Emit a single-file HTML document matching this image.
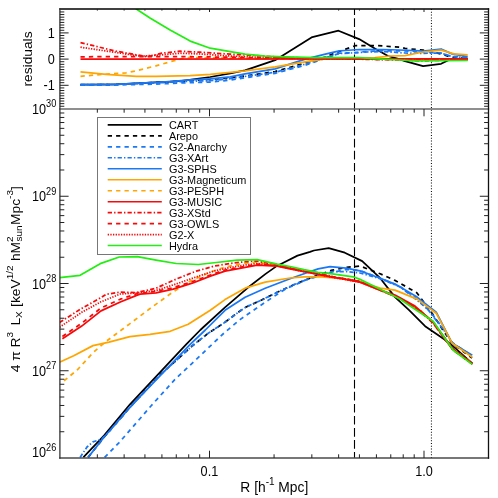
<!DOCTYPE html>
<html><head><meta charset="utf-8"><title>chart</title><style>html,body{margin:0;padding:0;background:#fff}</style></head><body><svg width="498" height="498" viewBox="0 0 498 498" style="display:block;font-family:'Liberation Sans',sans-serif">
<rect width="498" height="498" fill="#fff"/>
<defs><clipPath id="ct"><rect x="59.9" y="9.0" width="428.6" height="100.0"/></clipPath><clipPath id="cb"><rect x="59.9" y="109.0" width="428.6" height="349.0"/></clipPath></defs>
<line x1="354.5" y1="9.0" x2="354.5" y2="458.0" stroke="#000" stroke-width="1.1" stroke-dasharray="8.65 3.4" stroke-dashoffset="2.75"/>
<line x1="431.45" y1="9.0" x2="431.45" y2="458.0" stroke="#111" stroke-width="1.1" stroke-dasharray="1 1.8"/>
<polyline points="80.5,84.7 116.2,84.3 156.0,82.3 180.0,81.0 210.2,77.0 230.3,73.3 245.0,70.3 275.1,60.2 312.3,37.1 338.5,30.7 359.1,39.1 375.2,48.7 388.0,56.0 399.3,59.2 405.0,61.1 423.1,66.1 441.1,63.8 448.4,60.2 467.7,58.4" fill="none" stroke="#000" stroke-width="1.75" stroke-linejoin="round" clip-path="url(#ct)"/>
<polyline points="80.5,84.9 116.2,84.5 156.0,82.5 190.2,80.5 210.2,79.5 230.3,77.8 245.0,76.0 275.1,71.5 305.2,63.0 325.3,57.0 335.0,53.0 344.6,49.5 355.9,45.5 375.2,45.5 399.3,47.1 405.0,48.4 423.0,50.2 441.0,53.9 452.0,57.5 467.7,58.4" fill="none" stroke="#000" stroke-width="1.75" stroke-linejoin="round" stroke-dasharray="4.3 4.1" clip-path="url(#ct)"/>
<polyline points="80.5,85.2 116.2,84.9 156.0,84.1 190.2,82.6 210.2,82.1 230.0,80.1 250.0,77.1 275.1,73.3 305.2,65.2 325.3,58.2 339.4,53.2 351.0,52.8 367.0,51.6 383.0,50.7 415.0,51.1 423.0,52.3 441.0,53.0 452.0,56.6 467.7,57.0" fill="none" stroke="#1a78f5" stroke-width="1.75" stroke-linejoin="round" stroke-dasharray="4.3 4.1" clip-path="url(#ct)"/>
<polyline points="80.5,84.7 116.2,84.3 156.0,82.9 190.2,81.2 210.2,80.7 230.0,78.7 250.0,75.7 275.1,72.3 305.2,64.2 325.3,57.7 339.4,53.5 351.0,53.0 367.0,52.0 383.0,51.5 405.0,53.0 423.0,53.3 441.0,53.0 452.0,56.6 467.7,57.5" fill="none" stroke="#1a78f5" stroke-width="1.75" stroke-linejoin="round" stroke-dasharray="4.3 2.1 1.4 2.1" clip-path="url(#ct)"/>
<polyline points="80.5,84.7 116.2,84.3 150.0,82.7 170.0,81.7 190.2,79.8 210.2,78.8 230.3,76.8 245.0,73.8 275.1,68.9 305.2,59.2 325.3,54.2 339.4,50.8 345.0,50.5 359.1,49.5 383.2,49.5 399.3,50.0 415.0,50.7 423.0,51.1 441.1,49.0 452.0,53.9 467.7,56.6" fill="none" stroke="#1a78f5" stroke-width="1.75" stroke-linejoin="round" clip-path="url(#ct)"/>
<polyline points="80.5,71.9 106.2,74.3 136.3,76.3 156.0,76.3 190.2,75.7 210.2,74.3 230.3,72.3 245.0,70.9 275.1,66.8 305.2,61.8 325.3,58.8 345.0,58.2 367.0,58.0 375.0,57.6 391.0,56.0 405.0,55.7 423.0,52.0 441.1,50.2 453.8,53.9 467.7,54.8" fill="none" stroke="#ffa500" stroke-width="1.75" stroke-linejoin="round" clip-path="url(#ct)"/>
<polyline points="80.5,76.3 106.2,74.0 126.0,72.8 136.3,70.8 156.0,65.8 170.0,61.8 186.0,57.6 210.0,57.8 250.0,58.4 300.0,58.6 350.0,58.8 400.0,59.0 467.7,59.5" fill="none" stroke="#ffa500" stroke-width="1.75" stroke-linejoin="round" stroke-dasharray="4.3 4.1" clip-path="url(#ct)"/>
<polyline points="80.5,59.2 467.7,58.9" fill="none" stroke="#f80808" stroke-width="1.75" stroke-linejoin="round" clip-path="url(#ct)"/>
<polyline points="80.5,42.6 116.2,51.2 146.4,56.6 150.0,56.2 162.0,53.2 180.1,51.2 200.2,52.2 230.3,54.2 250.0,55.2 280.0,57.2 320.0,58.5 360.0,59.2 400.0,60.0 423.0,61.0 445.0,60.0 467.7,59.5" fill="none" stroke="#f80808" stroke-width="1.75" stroke-linejoin="round" stroke-dasharray="4.3 2.1 1.4 2.1" clip-path="url(#ct)"/>
<polyline points="80.5,56.8 156.0,56.5 200.0,56.8 250.0,57.5 300.0,58.0 400.0,59.0 467.7,59.0" fill="none" stroke="#f80808" stroke-width="1.75" stroke-linejoin="round" stroke-dasharray="4.3 4.1" clip-path="url(#ct)"/>
<polyline points="80.5,47.2 116.2,52.5 140.3,56.2 160.0,55.0 180.0,53.2 200.0,54.0 230.0,56.0 250.0,57.0 300.0,58.5 400.0,59.5 467.7,59.5" fill="none" stroke="#f80808" stroke-width="1.75" stroke-linejoin="round" stroke-dasharray="1.3 1.35" clip-path="url(#ct)"/>
<polyline points="130.0,0.0 136.3,9.0 150.0,18.1 170.1,30.1 190.2,41.1 210.2,48.2 230.3,51.6 245.0,54.2 265.1,56.2 285.2,56.8 315.3,57.6 359.0,57.6 383.0,59.2 399.3,60.0 415.0,60.8 467.7,60.5" fill="none" stroke="#22ee11" stroke-width="1.75" stroke-linejoin="round" clip-path="url(#ct)"/>
<polyline points="83.3,457.4 104.2,435.4 130.0,404.3 186.2,344.4 200.3,330.0 225.0,307.3 247.7,287.8 265.3,274.1 276.6,266.1 281.4,263.7 297.5,255.6 310.0,251.9 313.9,250.5 328.7,248.2 344.8,252.7 362.2,261.1 380.2,278.2 395.0,297.1 409.1,310.2 425.1,326.2 444.2,339.3 453.2,346.3 472.3,363.4" fill="none" stroke="#000" stroke-width="1.75" stroke-linejoin="round" clip-path="url(#cb)"/>
<polyline points="88.1,457.4 104.2,437.0 130.0,407.3 160.0,374.9 176.0,360.6 192.1,346.0 208.2,333.3 224.3,322.7 240.0,311.0 246.1,307.0 262.1,299.8 278.2,291.8 294.3,284.5 310.0,278.1 318.1,275.1 332.2,270.2 346.2,267.4 360.0,266.0 380.2,273.8 396.0,280.9 417.0,292.9 433.0,314.6 444.3,332.3 452.3,343.5 472.0,358.0" fill="none" stroke="#000" stroke-width="1.75" stroke-linejoin="round" stroke-dasharray="4.3 4.1" clip-path="url(#cb)"/>
<polyline points="104.6,457.4 119.1,442.6 135.2,424.2 151.2,405.7 175.3,379.0 192.1,363.3 208.2,348.0 224.3,332.8 240.0,319.6 265.2,302.2 285.2,289.2 305.3,280.2 325.0,274.1 346.0,269.5 360.0,270.5 380.0,278.0 400.0,286.5 417.0,299.0 430.0,311.5 444.3,330.0 452.3,342.5 472.0,356.0" fill="none" stroke="#1a78f5" stroke-width="1.75" stroke-linejoin="round" stroke-dasharray="4.3 4.1" clip-path="url(#cb)"/>
<polyline points="80.1,457.4 87.0,447.0 93.0,441.8 101.0,439.4 108.0,433.0 130.0,407.3 160.0,374.9 176.0,360.6 192.1,346.0 208.2,333.3 224.3,322.7 240.0,311.0 246.1,307.0 262.1,299.8 278.2,291.8 294.3,284.5 310.0,278.3 318.1,275.6 332.2,271.6 346.2,271.6 360.0,273.0 380.0,278.6 400.3,287.0 417.0,300.2 428.2,309.8 433.0,316.2 444.3,330.7 452.3,343.0 472.0,356.0" fill="none" stroke="#1a78f5" stroke-width="1.75" stroke-linejoin="round" stroke-dasharray="4.3 2.1 1.4 2.1" clip-path="url(#cb)"/>
<polyline points="88.1,457.4 104.2,437.0 130.0,407.3 136.0,400.9 190.2,344.4 205.3,330.0 225.0,310.3 245.1,297.2 265.2,288.2 290.0,278.7 304.0,273.7 318.1,268.8 330.1,266.7 346.2,268.1 360.0,270.9 380.2,278.2 395.0,284.1 417.1,297.1 436.2,312.2 452.2,343.3 472.3,355.3" fill="none" stroke="#1a78f5" stroke-width="1.75" stroke-linejoin="round" clip-path="url(#cb)"/>
<polyline points="59.5,362.2 73.7,355.7 93.0,345.6 109.0,342.2 129.9,336.6 150.0,334.4 170.2,331.3 188.2,324.3 210.3,310.3 225.0,299.6 245.1,288.2 265.2,282.2 290.0,278.0 304.0,276.8 322.0,276.8 340.0,278.5 360.0,282.0 380.2,288.2 395.0,290.1 417.1,299.1 436.2,313.2 452.2,343.3 472.3,357.3" fill="none" stroke="#ffa500" stroke-width="1.75" stroke-linejoin="round" clip-path="url(#cb)"/>
<polyline points="64.0,380.8 77.7,369.5 93.0,352.7 105.8,341.6 130.0,323.6 152.1,307.0 172.2,292.6 190.2,281.1 210.3,272.1 225.0,267.1 245.0,263.1 257.0,262.1 277.2,265.1 304.0,271.0 332.0,277.0 360.0,282.0 380.0,290.0 400.0,298.0 420.0,310.0 433.0,322.0 453.0,349.0 472.3,363.0" fill="none" stroke="#ffa500" stroke-width="1.75" stroke-linejoin="round" stroke-dasharray="4.3 4.1" clip-path="url(#cb)"/>
<polyline points="62.4,338.7 81.7,326.1 101.0,310.9 120.3,302.0 136.0,295.6 140.0,294.2 156.1,292.8 173.2,289.2 192.2,283.2 210.3,276.1 225.0,271.1 241.1,268.1 257.1,265.1 277.2,266.1 290.0,268.8 304.0,271.6 318.0,274.4 332.2,277.2 346.2,279.4 360.0,282.2 380.2,290.2 395.0,295.1 415.0,306.1 433.2,322.2 453.2,349.3 472.3,363.4" fill="none" stroke="#f80808" stroke-width="1.75" stroke-linejoin="round" clip-path="url(#cb)"/>
<polyline points="59.5,322.5 81.7,308.4 101.0,297.6 106.2,294.2 120.3,292.2 136.3,292.6 156.1,288.2 176.2,279.1 196.3,271.1 214.3,266.1 230.0,263.5 245.0,261.7 257.1,261.1 277.2,265.0 304.0,271.0 332.0,276.5 360.0,281.5 380.0,290.0 400.0,298.5 420.0,311.0 433.0,323.0 453.0,350.0 472.3,364.0" fill="none" stroke="#f80808" stroke-width="1.75" stroke-linejoin="round" stroke-dasharray="4.3 2.1 1.4 2.1" clip-path="url(#cb)"/>
<polyline points="62.4,336.5 81.7,323.2 101.0,308.0 120.3,299.2 136.0,294.0 156.1,291.3 173.2,287.7 192.2,281.7 210.3,275.0 225.0,270.0 241.1,267.0 257.1,264.2 277.2,265.5 304.0,271.0 332.0,276.5 360.0,281.5 380.0,290.0 400.0,298.5 420.0,311.0 433.0,323.0 453.0,350.0 472.3,364.0" fill="none" stroke="#f80808" stroke-width="1.75" stroke-linejoin="round" stroke-dasharray="4.3 4.1" clip-path="url(#cb)"/>
<polyline points="59.5,327.3 81.7,312.3 101.0,301.8 120.3,294.0 136.0,293.0 156.0,290.5 176.0,284.0 196.0,277.0 214.0,271.0 230.0,267.5 245.0,265.0 257.0,263.5 277.2,266.0 304.0,271.6 332.0,277.2 360.0,282.2 380.0,290.2 400.0,298.5 420.0,310.5 433.0,322.5 453.0,349.5 472.3,364.0" fill="none" stroke="#f80808" stroke-width="1.75" stroke-linejoin="round" stroke-dasharray="1.3 1.35" clip-path="url(#cb)"/>
<polyline points="59.8,277.6 80.1,275.3 100.2,263.7 119.3,257.0 137.3,256.6 156.1,260.1 176.2,263.5 198.3,264.5 216.3,262.5 237.0,260.1 257.1,259.7 277.2,264.1 290.0,266.5 304.0,269.7 318.0,272.3 332.2,273.9 346.2,275.8 353.3,276.8 360.0,279.4 380.2,289.2 400.3,299.3 415.0,309.2 433.2,321.2 453.2,350.3 472.3,364.4" fill="none" stroke="#22ee11" stroke-width="1.75" stroke-linejoin="round" clip-path="url(#cb)"/>
<line x1="59.9" y1="9.0" x2="488.5" y2="9.0" stroke="#000" stroke-width="1.3" stroke-linecap="square"/>
<line x1="59.9" y1="109.0" x2="488.5" y2="109.0" stroke="#6a6a6a" stroke-width="1.4" stroke-linecap="square"/>
<line x1="59.9" y1="458.0" x2="488.5" y2="458.0" stroke="#4a4a4a" stroke-width="1.3" stroke-linecap="square"/>
<line x1="59.9" y1="9.0" x2="59.9" y2="458.0" stroke="#333" stroke-width="1.3" stroke-linecap="square"/>
<line x1="488.5" y1="9.0" x2="488.5" y2="458.0" stroke="#111" stroke-width="1.3" stroke-linecap="square"/>
<path d="M97.34 9.00L97.34 10.60M97.34 109.00L97.34 112.70M97.34 458.00L97.34 454.30M124.14 9.00L124.14 10.60M124.14 109.00L124.14 112.70M124.14 458.00L124.14 454.30M144.93 9.00L144.93 10.60M144.93 109.00L144.93 112.70M144.93 458.00L144.93 454.30M161.91 9.00L161.91 10.60M161.91 109.00L161.91 112.70M161.91 458.00L161.91 454.30M176.27 9.00L176.27 10.60M176.27 109.00L176.27 112.70M176.27 458.00L176.27 454.30M188.71 9.00L188.71 10.60M188.71 109.00L188.71 112.70M188.71 458.00L188.71 454.30M199.69 9.00L199.69 10.60M199.69 109.00L199.69 112.70M199.69 458.00L199.69 454.30M209.50 9.00L209.50 12.00M209.50 109.00L209.50 116.30M209.50 458.00L209.50 450.70M274.07 9.00L274.07 10.60M274.07 109.00L274.07 112.70M274.07 458.00L274.07 454.30M311.84 9.00L311.84 10.60M311.84 109.00L311.84 112.70M311.84 458.00L311.84 454.30M338.64 9.00L338.64 10.60M338.64 109.00L338.64 112.70M338.64 458.00L338.64 454.30M359.43 9.00L359.43 10.60M359.43 109.00L359.43 112.70M359.43 458.00L359.43 454.30M376.41 9.00L376.41 10.60M376.41 109.00L376.41 112.70M376.41 458.00L376.41 454.30M390.77 9.00L390.77 10.60M390.77 109.00L390.77 112.70M390.77 458.00L390.77 454.30M403.21 9.00L403.21 10.60M403.21 109.00L403.21 112.70M403.21 458.00L403.21 454.30M414.19 9.00L414.19 10.60M414.19 109.00L414.19 112.70M414.19 458.00L414.19 454.30M424.00 9.00L424.00 12.00M424.00 109.00L424.00 116.30M424.00 458.00L424.00 450.70M59.90 106.26L64.30 106.26M488.50 106.26L484.10 106.26M59.90 103.64L64.30 103.64M488.50 103.64L484.10 103.64M59.90 101.02L64.30 101.02M488.50 101.02L484.10 101.02M59.90 98.40L64.30 98.40M488.50 98.40L484.10 98.40M59.90 95.78L64.30 95.78M488.50 95.78L484.10 95.78M59.90 93.16L64.30 93.16M488.50 93.16L484.10 93.16M59.90 90.54L64.30 90.54M488.50 90.54L484.10 90.54M59.90 87.92L64.30 87.92M488.50 87.92L484.10 87.92M59.90 85.30L68.60 85.30M488.50 85.30L479.80 85.30M59.90 82.68L64.30 82.68M488.50 82.68L484.10 82.68M59.90 80.06L64.30 80.06M488.50 80.06L484.10 80.06M59.90 77.44L64.30 77.44M488.50 77.44L484.10 77.44M59.90 74.82L64.30 74.82M488.50 74.82L484.10 74.82M59.90 72.20L64.30 72.20M488.50 72.20L484.10 72.20M59.90 69.58L64.30 69.58M488.50 69.58L484.10 69.58M59.90 66.96L64.30 66.96M488.50 66.96L484.10 66.96M59.90 64.34L64.30 64.34M488.50 64.34L484.10 64.34M59.90 61.72L64.30 61.72M488.50 61.72L484.10 61.72M59.90 59.10L68.60 59.10M488.50 59.10L479.80 59.10M59.90 56.48L64.30 56.48M488.50 56.48L484.10 56.48M59.90 53.86L64.30 53.86M488.50 53.86L484.10 53.86M59.90 51.24L64.30 51.24M488.50 51.24L484.10 51.24M59.90 48.62L64.30 48.62M488.50 48.62L484.10 48.62M59.90 46.00L64.30 46.00M488.50 46.00L484.10 46.00M59.90 43.38L64.30 43.38M488.50 43.38L484.10 43.38M59.90 40.76L64.30 40.76M488.50 40.76L484.10 40.76M59.90 38.14L64.30 38.14M488.50 38.14L484.10 38.14M59.90 35.52L64.30 35.52M488.50 35.52L484.10 35.52M59.90 32.90L68.60 32.90M488.50 32.90L479.80 32.90M59.90 30.28L64.30 30.28M488.50 30.28L484.10 30.28M59.90 27.66L64.30 27.66M488.50 27.66L484.10 27.66M59.90 25.04L64.30 25.04M488.50 25.04L484.10 25.04M59.90 22.42L64.30 22.42M488.50 22.42L484.10 22.42M59.90 19.80L64.30 19.80M488.50 19.80L484.10 19.80M59.90 17.18L64.30 17.18M488.50 17.18L484.10 17.18M59.90 14.56L64.30 14.56M488.50 14.56L484.10 14.56M59.90 11.94L64.30 11.94M488.50 11.94L484.10 11.94M59.90 431.74L64.30 431.74M488.50 431.74L484.10 431.74M59.90 416.37L64.30 416.37M488.50 416.37L484.10 416.37M59.90 405.47L64.30 405.47M488.50 405.47L484.10 405.47M59.90 397.01L64.30 397.01M488.50 397.01L484.10 397.01M59.90 390.11L64.30 390.11M488.50 390.11L484.10 390.11M59.90 384.27L64.30 384.27M488.50 384.27L484.10 384.27M59.90 379.21L64.30 379.21M488.50 379.21L484.10 379.21M59.90 374.74L64.30 374.74M488.50 374.74L484.10 374.74M59.90 370.75L68.60 370.75M488.50 370.75L479.80 370.75M59.90 344.49L64.30 344.49M488.50 344.49L484.10 344.49M59.90 329.12L64.30 329.12M488.50 329.12L484.10 329.12M59.90 318.22L64.30 318.22M488.50 318.22L484.10 318.22M59.90 309.76L64.30 309.76M488.50 309.76L484.10 309.76M59.90 302.86L64.30 302.86M488.50 302.86L484.10 302.86M59.90 297.02L64.30 297.02M488.50 297.02L484.10 297.02M59.90 291.96L64.30 291.96M488.50 291.96L484.10 291.96M59.90 287.49L64.30 287.49M488.50 287.49L484.10 287.49M59.90 283.50L68.60 283.50M488.50 283.50L479.80 283.50M59.90 257.24L64.30 257.24M488.50 257.24L484.10 257.24M59.90 241.87L64.30 241.87M488.50 241.87L484.10 241.87M59.90 230.97L64.30 230.97M488.50 230.97L484.10 230.97M59.90 222.51L64.30 222.51M488.50 222.51L484.10 222.51M59.90 215.61L64.30 215.61M488.50 215.61L484.10 215.61M59.90 209.77L64.30 209.77M488.50 209.77L484.10 209.77M59.90 204.71L64.30 204.71M488.50 204.71L484.10 204.71M59.90 200.24L64.30 200.24M488.50 200.24L484.10 200.24M59.90 196.25L68.60 196.25M488.50 196.25L479.80 196.25M59.90 169.99L64.30 169.99M488.50 169.99L484.10 169.99M59.90 154.62L64.30 154.62M488.50 154.62L484.10 154.62M59.90 143.72L64.30 143.72M488.50 143.72L484.10 143.72M59.90 135.26L64.30 135.26M488.50 135.26L484.10 135.26M59.90 128.36L64.30 128.36M488.50 128.36L484.10 128.36M59.90 122.52L64.30 122.52M488.50 122.52L484.10 122.52M59.90 117.46L64.30 117.46M488.50 117.46L484.10 117.46M59.90 112.99L64.30 112.99M488.50 112.99L484.10 112.99" stroke="#222" stroke-width="1" fill="none"/>
<rect x="97.5" y="117.5" width="153.0" height="137.0" fill="#fff" stroke="#777" stroke-width="1"/>
<g fill="#000" opacity="0.99">
<line x1="107.7" y1="124.90" x2="161.8" y2="124.90" stroke="#000" stroke-width="1.6"/>
<text transform="translate(168.9,128.90) scale(0.94,1)" font-size="11.6">CART</text>
<line x1="107.7" y1="135.87" x2="161.8" y2="135.87" stroke="#000" stroke-width="1.6" stroke-dasharray="4.3 4.1"/>
<text transform="translate(168.9,139.87) scale(0.94,1)" font-size="11.6">Arepo</text>
<line x1="107.7" y1="146.84" x2="161.8" y2="146.84" stroke="#1a78f5" stroke-width="1.6" stroke-dasharray="4.3 4.1"/>
<text transform="translate(168.9,150.84) scale(0.94,1)" font-size="11.6">G2-Anarchy</text>
<line x1="107.7" y1="157.81" x2="161.8" y2="157.81" stroke="#1a78f5" stroke-width="1.6" stroke-dasharray="4.3 2.1 1.4 2.1"/>
<text transform="translate(168.9,161.81) scale(0.94,1)" font-size="11.6">G3-XArt</text>
<line x1="107.7" y1="168.78" x2="161.8" y2="168.78" stroke="#1a78f5" stroke-width="1.6"/>
<text transform="translate(168.9,172.78) scale(0.94,1)" font-size="11.6">G3-SPHS</text>
<line x1="107.7" y1="179.75" x2="161.8" y2="179.75" stroke="#ffa500" stroke-width="1.6"/>
<text transform="translate(168.9,183.75) scale(0.94,1)" font-size="11.6">G3-Magneticum</text>
<line x1="107.7" y1="190.72" x2="161.8" y2="190.72" stroke="#ffa500" stroke-width="1.6" stroke-dasharray="4.3 4.1"/>
<text transform="translate(168.9,194.72) scale(0.94,1)" font-size="11.6">G3-PESPH</text>
<line x1="107.7" y1="201.69" x2="161.8" y2="201.69" stroke="#f80808" stroke-width="1.6"/>
<text transform="translate(168.9,205.69) scale(0.94,1)" font-size="11.6">G3-MUSIC</text>
<line x1="107.7" y1="212.66" x2="161.8" y2="212.66" stroke="#f80808" stroke-width="1.6" stroke-dasharray="4.3 2.1 1.4 2.1"/>
<text transform="translate(168.9,216.66) scale(0.94,1)" font-size="11.6">G3-XStd</text>
<line x1="107.7" y1="223.63" x2="161.8" y2="223.63" stroke="#f80808" stroke-width="1.6" stroke-dasharray="4.3 4.1"/>
<text transform="translate(168.9,227.63) scale(0.94,1)" font-size="11.6">G3-OWLS</text>
<line x1="107.7" y1="234.60" x2="161.8" y2="234.60" stroke="#f80808" stroke-width="1.6" stroke-dasharray="1.3 1.35"/>
<text transform="translate(168.9,238.60) scale(0.94,1)" font-size="11.6">G2-X</text>
<line x1="107.7" y1="245.57" x2="161.8" y2="245.57" stroke="#22ee11" stroke-width="1.6"/>
<text transform="translate(168.9,249.57) scale(0.94,1)" font-size="11.6">Hydra</text>
<text transform="translate(54.8,37.80) scale(0.92,1)" font-size="13.8" text-anchor="end">1</text>
<text transform="translate(54.8,64.00) scale(0.92,1)" font-size="13.8" text-anchor="end">0</text>
<text transform="translate(54.8,90.20) scale(0.92,1)" font-size="13.8" text-anchor="end">-1</text>
<text transform="translate(32.0,114.00) scale(0.92,1)" font-size="13.8" text-anchor="start">10<tspan font-size="10.0" dy="-6.7">30</tspan></text>
<text transform="translate(32.0,201.25) scale(0.92,1)" font-size="13.8" text-anchor="start">10<tspan font-size="10.0" dy="-6.7">29</tspan></text>
<text transform="translate(32.0,288.50) scale(0.92,1)" font-size="13.8" text-anchor="start">10<tspan font-size="10.0" dy="-6.7">28</tspan></text>
<text transform="translate(32.0,375.75) scale(0.92,1)" font-size="13.8" text-anchor="start">10<tspan font-size="10.0" dy="-6.7">27</tspan></text>
<text transform="translate(32.0,457.40) scale(0.92,1)" font-size="13.8" text-anchor="start">10<tspan font-size="10.0" dy="-6.7">26</tspan></text>
<text transform="translate(209.4,476.20) scale(0.92,1)" font-size="13.8" text-anchor="middle">0.1</text>
<text transform="translate(424.0,476.20) scale(0.92,1)" font-size="13.8" text-anchor="middle">1.0</text>
<text transform="translate(274.3,491.60) scale(1.0,1)" font-size="13.8" text-anchor="middle">R [h<tspan font-size="10.0" dy="-6.4">-1</tspan><tspan dy="6.4"> Mpc]</tspan></text>
<text transform="translate(32.0,59) scale(0.97,1) rotate(-90)" font-size="13.8" text-anchor="middle">residuals</text>
<text transform="translate(19.5,372.3) scale(0.97,1) rotate(-90)" font-size="13.8" text-anchor="start">4 π R<tspan font-size="10.0" dy="-6.4">3</tspan><tspan dy="6.4" dx="2.5"> L</tspan><tspan font-size="10.0" dy="3">X</tspan><tspan dy="-3" dx="0.5">  [keV</tspan><tspan font-size="10.0" dy="-6.4">1/2</tspan><tspan dy="6.4" dx="0.5"> hM</tspan><tspan font-size="10.0" dy="-6.4">2</tspan><tspan font-size="10.0" dy="9.4" dx="-5.2">sun</tspan><tspan dy="-3" dx="0.5">Mpc</tspan><tspan font-size="10.0" dy="-6.4">-3</tspan><tspan dy="6.4">]</tspan></text>
</g>
</svg></body></html>
